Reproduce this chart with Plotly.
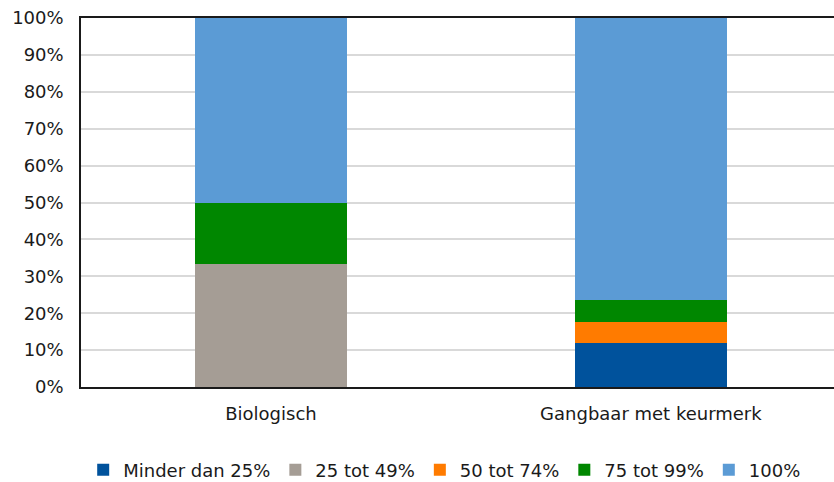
import plotly.graph_objects as go

categories = ["Biologisch", "Gangbaar met keurmerk"]
series_names = ["Minder dan 25%", "25 tot 49%", "50 tot 74%", "75 tot 99%", "100%"]
minder_dan_25 = [0.0, 11.8]
tot_49 = [33.3, 0.0]
tot_74 = [0.0, 5.9]
tot_99 = [16.7, 5.9]
honderd = [50.0, 76.5]
colors = ["#00529C", "#A59D95", "#FF7B00", "#008700", "#5B9BD5"]

font_family = "Verdana, DejaVu Sans, sans-serif"
fs = 18

fig = go.Figure()
for name, vals, col in zip(series_names, [minder_dan_25, tot_49, tot_74, tot_99, honderd], colors):
    fig.add_trace(go.Bar(x=categories, y=vals, name=name, marker_color=col,
                         marker_line_width=0))

fig.update_layout(
    barmode="stack",
    bargap=0.6,
    width=834, height=482,
    margin=dict(l=81, r=0, t=18, b=95, autoexpand=False),
    paper_bgcolor="white", plot_bgcolor="white",
    font=dict(family=font_family, size=fs, color="#1a1a1a"),
    legend=dict(orientation="h", x=0.483, xanchor="center", y=0.025,
                yref="container", yanchor="middle",
                font=dict(size=fs), traceorder="normal", itemwidth=30,
                tracegroupgap=0),
    xaxis=dict(showline=True, linecolor="#1a1a1a", linewidth=2, mirror=True,
               ticks="", tickfont=dict(size=fs), ticklabelstandoff=9,
               range=[-0.5, 1.482]),
    yaxis=dict(range=[0, 100], dtick=10, ticksuffix="%", showline=True,
               linecolor="#1a1a1a", linewidth=1.5, gridcolor="#D9D9D9",
               gridwidth=1.5, tickfont=dict(size=fs), zeroline=False,
               ticklabelstandoff=12),
)

fig.write_html("out.html")
